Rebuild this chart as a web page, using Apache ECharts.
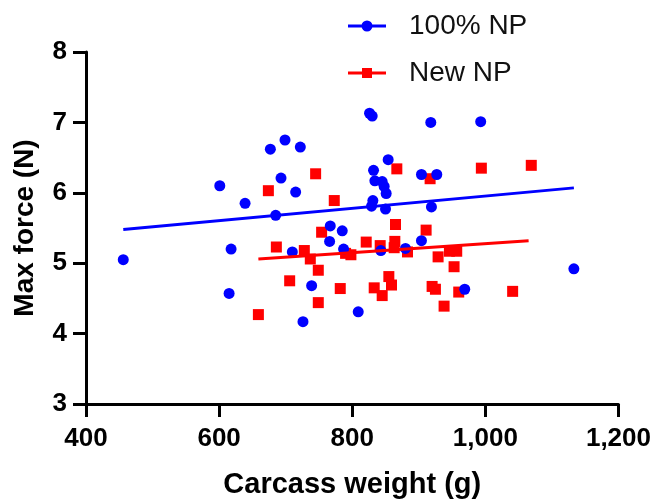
<!DOCTYPE html>
<html>
<head>
<meta charset="utf-8">
<script src="https://cdn.jsdelivr.net/npm/echarts@6/dist/echarts.min.js"></script>
<style>html,body{margin:0;padding:0;background:#fff;}#c{width:654px;height:504px;}</style>
</head>
<body>
<div id="c"></div>
<script>
// 100% NP: [carcass weight (g), max force (N)]
const np100 = [
  [456,5.05],[601,6.10],[618,5.20],[615,4.57],[639,5.85],[677,6.62],[699,6.75],[722,6.65],
  [693,6.21],[715,6.01],[685,5.68],[710,5.16],[739,4.68],[726,4.17],[767,5.53],[785,5.46],
  [766,5.31],[787,5.20],[809,4.31],[826,7.13],[830,7.09],[832,6.32],[834,6.17],[845,6.16],
  [848,6.09],[851,5.99],[831,5.89],[829,5.81],[850,5.77],[854,6.47],[843,5.18],[880,5.21],
  [904,5.32],[904,6.26],[927,6.26],[918,7.00],[919,5.80],[993,7.01],[969,4.63],[1133,4.92]
];
// New NP
const newNP = [
  [659,4.27],[674,6.03],[686,5.23],[706,4.75],[728,5.18],[737,5.06],[745,6.27],[749,4.90],
  [749,4.44],[754,5.44],[773,5.89],[782,4.64],[790,5.14],[798,5.12],[821,5.30],[833,4.65],
  [842,5.25],[845,4.54],[855,4.81],[859,4.69],[864,5.31],[863,5.22],[865,5.55],[867,6.34],
  [883,5.16],[911,5.47],[917,6.20],[920,4.67],[925,4.63],[929,5.09],[946,5.17],[957,5.17],
  [953,4.95],[938,4.39],[960,4.59],[994,6.35],[1041,4.60],[1069,6.39]
];
// fitted lines
const np100Fit = [[456,5.48],[1133,6.07]];
const newNPFit = [[659,5.06],[1065,5.32]];
const seriesNames = ['100% NP','New NP'];
const xTicks = [400,600,800,1000,1200];
const yTicks = [3,4,5,6,7,8];

const BLUE = '#0000ff', RED = '#ff0000';
const chart = echarts.init(document.getElementById('c'));
const font = '"Liberation Sans", Arial, sans-serif';
chart.setOption({
  animation: false,
  backgroundColor: '#fff',
  grid: {left: 86, right: 34, top: 52, bottom: 96, containLabel: false},
  legend: {
    orient: 'vertical', left: 343, top: 7, itemGap: 19,
    itemWidth: 38, itemHeight: 11,
    textStyle: {fontFamily: font, fontSize: 28, color: '#111', padding: [0,0,0,18]},
    data: [
      {name: seriesNames[0], icon: 'path://M0,4 L38,4 L38,7 L0,7 Z M13.5,5.5 A5.5,5.5 0 1,1 24.5,5.5 A5.5,5.5 0 1,1 13.5,5.5 Z', itemStyle: {color: BLUE}},
      {name: seriesNames[1], icon: 'path://M0,4 L38,4 L38,7 L0,7 Z M14,0.5 L24,0.5 L24,10.5 L14,10.5 Z', itemStyle: {color: RED}}
    ]
  },
  xAxis: {
    type: 'value', min: xTicks[0], max: xTicks[xTicks.length-1], interval: 200,
    name: 'Carcass weight (g)', nameLocation: 'middle', nameGap: 66,
    nameTextStyle: {fontFamily: font, fontWeight: 'bold', fontSize: 29, color: '#000'},
    axisLine: {lineStyle: {color: '#000', width: 3}},
    axisTick: {length: 13, lineStyle: {color: '#000', width: 3}},
    axisLabel: {margin: 22, fontFamily: font, fontWeight: 'bold', fontSize: 26, color: '#000',
      formatter: v => v.toLocaleString('en-US')},
    splitLine: {show: false}
  },
  yAxis: {
    type: 'value', min: yTicks[0], max: yTicks[yTicks.length-1], interval: 1,
    name: 'Max force (N)', nameLocation: 'middle', nameGap: 47, nameRotate: 90,
    nameTextStyle: {fontFamily: font, fontWeight: 'bold', fontSize: 28, color: '#000'},
    axisLine: {show: true, lineStyle: {color: '#000', width: 3}},
    axisTick: {show: true, length: 13, lineStyle: {color: '#000', width: 3}},
    axisLabel: {margin: 19, fontFamily: font, fontWeight: 'bold', fontSize: 26, color: '#000'},
    splitLine: {show: false}
  },
  series: [
    {name: seriesNames[0], type: 'scatter', data: np100, symbol: 'circle', symbolSize: 11,
      itemStyle: {color: BLUE, opacity: 1}, z: 3},
    {name: seriesNames[1], type: 'scatter', data: newNP, symbol: 'rect', symbolSize: 11,
      itemStyle: {color: RED, opacity: 1}, z: 2},
    {name: seriesNames[0] + ' fit', type: 'line', data: np100Fit, showSymbol: false, symbol: 'none',
      lineStyle: {color: BLUE, width: 3}, z: 4, silent: true},
    {name: seriesNames[1] + ' fit', type: 'line', data: newNPFit, showSymbol: false, symbol: 'none',
      lineStyle: {color: RED, width: 3}, z: 4, silent: true}
  ]
});
</script>
</body>
</html>
